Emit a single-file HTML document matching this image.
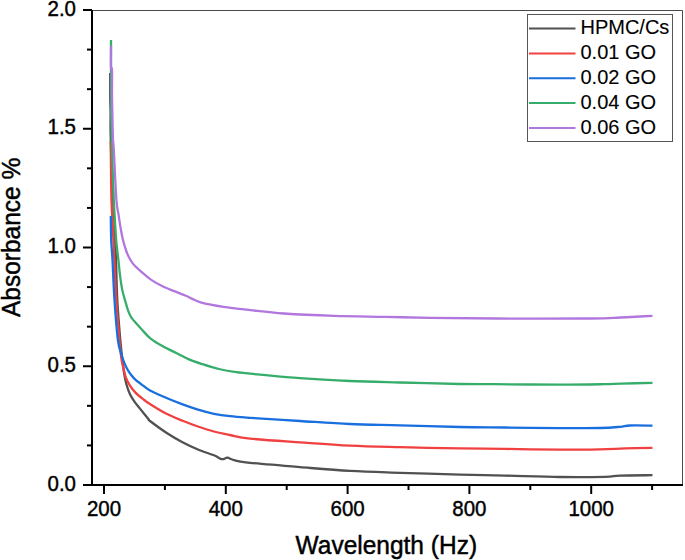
<!DOCTYPE html>
<html><head><meta charset="utf-8"><style>
html,body{margin:0;padding:0;background:#fff;}
body{width:685px;height:560px;overflow:hidden;}
svg{display:block;}
text{font-family:"Liberation Sans", sans-serif;fill:#000;stroke:#000;stroke-width:0.45px;}
</style></head><body>
<svg width="685" height="560" viewBox="0 0 685 560">
<rect x="0" y="0" width="685" height="560" fill="#fff"/>

<path d="M110.20,73.00 C110.20,77.00 110.13,90.50 110.20,97.00 C110.27,103.50 110.53,106.00 110.60,112.00 C110.67,118.00 110.37,121.67 110.60,133.00 C110.83,144.33 111.52,167.17 112.00,180.00 C112.48,192.83 113.05,202.00 113.50,210.00 C113.95,218.00 114.40,222.17 114.70,228.00 C115.00,233.83 115.08,239.67 115.30,245.00 C115.52,250.33 115.67,250.83 116.00,260.00 C116.33,269.17 116.58,286.67 117.30,300.00 C118.02,313.33 119.37,329.28 120.30,340.00 C121.23,350.72 122.23,358.58 122.90,364.30 C123.57,370.02 123.72,370.97 124.30,374.30 C124.88,377.63 125.45,380.97 126.40,384.30 C127.35,387.63 128.68,391.45 130.00,394.30 C131.32,397.15 132.63,399.02 134.30,401.40 C135.97,403.78 137.62,405.62 140.00,408.60 C142.38,411.58 146.93,417.23 148.60,419.30 C150.27,421.37 147.10,418.80 150.00,421.00 C152.90,423.20 160.67,429.00 166.00,432.50 C171.33,436.00 176.67,439.17 182.00,442.00 C187.33,444.83 192.67,447.28 198.00,449.50 C203.33,451.72 210.22,453.75 214.00,455.30 C217.78,456.85 219.03,458.18 220.70,458.80 C222.37,459.42 222.87,459.18 224.00,459.00 C225.13,458.82 225.67,457.47 227.50,457.70 C229.33,457.93 231.25,459.55 235.00,460.40 C238.75,461.25 239.17,461.68 250.00,462.80 C260.83,463.92 283.33,465.75 300.00,467.10 C316.67,468.45 333.33,469.95 350.00,470.90 C366.67,471.85 381.67,472.18 400.00,472.80 C418.33,473.42 442.50,474.13 460.00,474.60 C477.50,475.07 488.33,475.20 505.00,475.60 C521.67,476.00 543.33,476.80 560.00,477.00 C576.67,477.20 595.00,477.03 605.00,476.80 C615.00,476.57 612.08,475.87 620.00,475.60 C627.92,475.33 647.08,475.27 652.50,475.20" fill="none" stroke="#515151" stroke-width="2.3" stroke-linejoin="round" stroke-linecap="butt"/>
<path d="M110.80,141.00 C110.80,142.50 110.68,140.17 110.80,150.00 C110.92,159.83 111.13,186.67 111.50,200.00 C111.87,213.33 112.53,220.00 113.00,230.00 C113.47,240.00 113.75,248.33 114.30,260.00 C114.85,271.67 115.45,286.67 116.30,300.00 C117.15,313.33 118.55,330.23 119.40,340.00 C120.25,349.77 120.70,353.83 121.40,358.60 C122.10,363.37 122.88,365.52 123.60,368.60 C124.32,371.68 124.63,374.25 125.70,377.10 C126.77,379.95 128.33,383.07 130.00,385.70 C131.67,388.33 133.32,390.52 135.70,392.90 C138.08,395.28 141.92,398.13 144.30,400.00 C146.68,401.87 146.38,401.85 150.00,404.10 C153.62,406.35 160.67,410.77 166.00,413.50 C171.33,416.23 176.67,418.33 182.00,420.50 C187.33,422.67 192.67,424.67 198.00,426.50 C203.33,428.33 208.67,430.08 214.00,431.50 C219.33,432.92 224.00,433.82 230.00,435.00 C236.00,436.18 238.33,437.37 250.00,438.60 C261.67,439.83 283.33,441.22 300.00,442.40 C316.67,443.58 333.33,444.90 350.00,445.70 C366.67,446.50 381.67,446.75 400.00,447.20 C418.33,447.65 442.50,448.12 460.00,448.40 C477.50,448.68 488.33,448.68 505.00,448.90 C521.67,449.12 544.17,449.63 560.00,449.70 C575.83,449.77 589.17,449.52 600.00,449.30 C610.83,449.08 616.25,448.65 625.00,448.40 C633.75,448.15 647.92,447.90 652.50,447.80" fill="none" stroke="#F14040" stroke-width="2.3" stroke-linejoin="round" stroke-linecap="butt"/>
<path d="M110.80,216.00 C110.87,220.00 110.92,232.67 111.20,240.00 C111.48,247.33 111.95,250.00 112.50,260.00 C113.05,270.00 113.60,286.67 114.50,300.00 C115.40,313.33 116.75,330.95 117.90,340.00 C119.05,349.05 120.33,350.48 121.40,354.30 C122.47,358.12 123.10,360.05 124.30,362.90 C125.50,365.75 126.93,368.78 128.60,371.40 C130.27,374.02 132.17,376.45 134.30,378.60 C136.43,380.75 138.78,382.32 141.40,384.30 C144.02,386.28 145.90,388.27 150.00,390.50 C154.10,392.73 160.67,395.43 166.00,397.70 C171.33,399.97 176.67,402.10 182.00,404.10 C187.33,406.10 192.67,408.08 198.00,409.70 C203.33,411.32 208.67,412.72 214.00,413.80 C219.33,414.88 224.00,415.53 230.00,416.20 C236.00,416.87 238.33,417.00 250.00,417.80 C261.67,418.60 283.33,419.97 300.00,421.00 C316.67,422.03 333.33,423.28 350.00,424.00 C366.67,424.72 381.67,424.80 400.00,425.30 C418.33,425.80 442.50,426.63 460.00,427.00 C477.50,427.37 488.33,427.32 505.00,427.50 C521.67,427.68 544.17,428.02 560.00,428.10 C575.83,428.18 590.00,428.22 600.00,428.00 C610.00,427.78 615.00,427.22 620.00,426.80 C625.00,426.38 624.58,425.70 630.00,425.50 C635.42,425.30 648.75,425.58 652.50,425.60" fill="none" stroke="#1A6FDF" stroke-width="2.3" stroke-linejoin="round" stroke-linecap="butt"/>
<path d="M111.00,40.00 C111.00,43.33 111.00,50.00 111.00,60.00 C111.00,70.00 110.92,88.33 111.00,100.00 C111.08,111.67 111.33,121.67 111.50,130.00 C111.67,138.33 111.62,138.33 112.00,150.00 C112.38,161.67 113.22,186.67 113.80,200.00 C114.38,213.33 115.03,222.57 115.50,230.00 C115.97,237.43 116.12,239.60 116.60,244.60 C117.08,249.60 117.85,255.05 118.40,260.00 C118.95,264.95 119.30,269.53 119.90,274.30 C120.50,279.07 121.30,284.80 122.00,288.60 C122.70,292.40 123.40,294.48 124.10,297.10 C124.80,299.72 125.48,301.92 126.20,304.30 C126.92,306.68 127.50,309.13 128.40,311.40 C129.30,313.67 130.35,315.98 131.60,317.90 C132.85,319.82 134.23,321.00 135.90,322.90 C137.57,324.80 139.15,326.68 141.60,329.30 C144.05,331.92 147.07,335.77 150.60,338.60 C154.13,341.43 158.43,343.85 162.80,346.30 C167.17,348.75 172.43,351.12 176.80,353.30 C181.17,355.48 184.92,357.65 189.00,359.40 C193.08,361.15 196.33,362.20 201.30,363.80 C206.27,365.40 212.97,367.60 218.80,369.00 C224.63,370.40 229.43,371.27 236.30,372.20 C243.17,373.13 249.38,373.60 260.00,374.60 C270.62,375.60 285.00,377.13 300.00,378.20 C315.00,379.27 333.33,380.28 350.00,381.00 C366.67,381.72 381.67,382.00 400.00,382.50 C418.33,383.00 444.17,383.72 460.00,384.00 C475.83,384.28 478.33,384.08 495.00,384.20 C511.67,384.32 541.83,384.70 560.00,384.70 C578.17,384.70 593.83,384.38 604.00,384.20 C614.17,384.02 612.92,383.82 621.00,383.60 C629.08,383.38 647.25,383.02 652.50,382.90" fill="none" stroke="#37AD6B" stroke-width="2.3" stroke-linejoin="round" stroke-linecap="butt"/>
<path d="M111.00,46.00 C111.00,49.67 110.83,64.00 111.00,68.00 C111.17,72.00 111.83,65.33 112.00,70.00 C112.17,74.67 111.93,88.33 112.00,96.00 C112.07,103.67 112.25,109.00 112.40,116.00 C112.55,123.00 112.67,132.33 112.90,138.00 C113.13,143.67 113.22,139.67 113.80,150.00 C114.38,160.33 115.60,189.17 116.40,200.00 C117.20,210.83 117.92,210.42 118.60,215.00 C119.28,219.58 119.77,223.33 120.50,227.50 C121.23,231.67 121.95,235.83 123.00,240.00 C124.05,244.17 125.55,249.17 126.80,252.50 C128.05,255.83 129.17,257.78 130.50,260.00 C131.83,262.22 132.87,263.75 134.80,265.80 C136.73,267.85 139.42,270.00 142.10,272.30 C144.78,274.60 147.73,277.40 150.90,279.60 C154.07,281.80 157.45,283.67 161.10,285.50 C164.75,287.33 168.67,288.90 172.80,290.60 C176.93,292.30 182.73,294.37 185.90,295.70 C189.07,297.03 189.37,297.50 191.80,298.60 C194.23,299.70 195.22,300.93 200.50,302.30 C205.78,303.67 215.18,305.50 223.50,306.80 C231.82,308.10 240.32,308.98 250.40,310.10 C260.48,311.22 270.02,312.53 284.00,313.50 C297.98,314.47 317.52,315.33 334.30,315.90 C351.08,316.47 368.75,316.58 384.70,316.90 C400.65,317.22 411.28,317.53 430.00,317.80 C448.72,318.07 470.33,318.38 497.00,318.50 C523.67,318.62 569.50,318.67 590.00,318.50 C610.50,318.33 611.67,317.83 620.00,317.50 C628.33,317.17 634.58,316.78 640.00,316.50 C645.42,316.22 650.42,315.92 652.50,315.80" fill="none" stroke="#B177DE" stroke-width="2.3" stroke-linejoin="round" stroke-linecap="butt"/>
<path d="M92,10.5 H682.5 V485" fill="none" stroke="#4a4a4a" stroke-width="1"/>
<path d="M92,10 V486" stroke="#000" stroke-width="2"/>
<path d="M83,485 H683" stroke="#000" stroke-width="2"/>
<path d="M83,485.00 H92" stroke="#000" stroke-width="2"/>
<path d="M87,445.42 H92" stroke="#000" stroke-width="2"/>
<path d="M87,405.83 H92" stroke="#000" stroke-width="2"/>
<text transform="translate(76.0,490.60) scale(1,1.06)" font-size="20.5" text-anchor="end" style="stroke-width:0.4px">0.0</text>
<path d="M83,366.25 H92" stroke="#000" stroke-width="2"/>
<path d="M87,326.67 H92" stroke="#000" stroke-width="2"/>
<path d="M87,287.08 H92" stroke="#000" stroke-width="2"/>
<text transform="translate(76.0,371.85) scale(1,1.06)" font-size="20.5" text-anchor="end" style="stroke-width:0.4px">0.5</text>
<path d="M83,247.50 H92" stroke="#000" stroke-width="2"/>
<path d="M87,207.92 H92" stroke="#000" stroke-width="2"/>
<path d="M87,168.33 H92" stroke="#000" stroke-width="2"/>
<text transform="translate(76.0,253.10) scale(1,1.06)" font-size="20.5" text-anchor="end" style="stroke-width:0.4px">1.0</text>
<path d="M83,128.75 H92" stroke="#000" stroke-width="2"/>
<path d="M87,89.17 H92" stroke="#000" stroke-width="2"/>
<path d="M87,49.58 H92" stroke="#000" stroke-width="2"/>
<text transform="translate(76.0,134.35) scale(1,1.06)" font-size="20.5" text-anchor="end" style="stroke-width:0.4px">1.5</text>
<path d="M83,10.00 H92" stroke="#000" stroke-width="2"/>
<text transform="translate(76.0,15.60) scale(1,1.06)" font-size="20.5" text-anchor="end" style="stroke-width:0.4px">2.0</text>
<path d="M104.00,485 V494" stroke="#000" stroke-width="2"/>
<text transform="translate(104.00,515.9) scale(1,1.06)" font-size="20.5" text-anchor="middle" style="stroke-width:0.4px">200</text>
<path d="M164.90,485 V490" stroke="#000" stroke-width="2"/>
<path d="M225.80,485 V494" stroke="#000" stroke-width="2"/>
<text transform="translate(225.80,515.9) scale(1,1.06)" font-size="20.5" text-anchor="middle" style="stroke-width:0.4px">400</text>
<path d="M286.70,485 V490" stroke="#000" stroke-width="2"/>
<path d="M347.60,485 V494" stroke="#000" stroke-width="2"/>
<text transform="translate(347.60,515.9) scale(1,1.06)" font-size="20.5" text-anchor="middle" style="stroke-width:0.4px">600</text>
<path d="M408.50,485 V490" stroke="#000" stroke-width="2"/>
<path d="M469.40,485 V494" stroke="#000" stroke-width="2"/>
<text transform="translate(469.40,515.9) scale(1,1.06)" font-size="20.5" text-anchor="middle" style="stroke-width:0.4px">800</text>
<path d="M530.30,485 V490" stroke="#000" stroke-width="2"/>
<path d="M591.20,485 V494" stroke="#000" stroke-width="2"/>
<text transform="translate(591.20,515.9) scale(1,1.06)" font-size="20.5" text-anchor="middle" style="stroke-width:0.4px">1000</text>
<path d="M652.10,485 V490" stroke="#000" stroke-width="2"/>
<text transform="translate(386.3,553.5) scale(1,1.04)" font-size="24.5" text-anchor="middle">Wavelength (Hz)</text>
<text transform="translate(20.0,237.4) rotate(-90) scale(1,1.07)" font-size="24.5" text-anchor="middle">Absorbance %</text>
<rect x="527.5" y="14.5" width="145" height="127" fill="#fff" stroke="#555" stroke-width="1"/>
<path d="M529,28.50 H575.5" stroke="#515151" stroke-width="2"/>
<text transform="translate(580.5,34.40) scale(1,1.04)" font-size="20" style="stroke-width:0.1px">HPMC/Cs</text>
<path d="M529,53.38 H575.5" stroke="#F14040" stroke-width="2"/>
<text transform="translate(580.5,59.20) scale(1,1.04)" font-size="20" style="stroke-width:0.1px">0.01 GO</text>
<path d="M529,78.25 H575.5" stroke="#1A6FDF" stroke-width="2"/>
<text transform="translate(580.5,84.00) scale(1,1.04)" font-size="20" style="stroke-width:0.1px">0.02 GO</text>
<path d="M529,103.12 H575.5" stroke="#37AD6B" stroke-width="2"/>
<text transform="translate(580.5,108.80) scale(1,1.04)" font-size="20" style="stroke-width:0.1px">0.04 GO</text>
<path d="M529,128.00 H575.5" stroke="#B177DE" stroke-width="2"/>
<text transform="translate(580.5,133.60) scale(1,1.04)" font-size="20" style="stroke-width:0.1px">0.06 GO</text>
</svg></body></html>
